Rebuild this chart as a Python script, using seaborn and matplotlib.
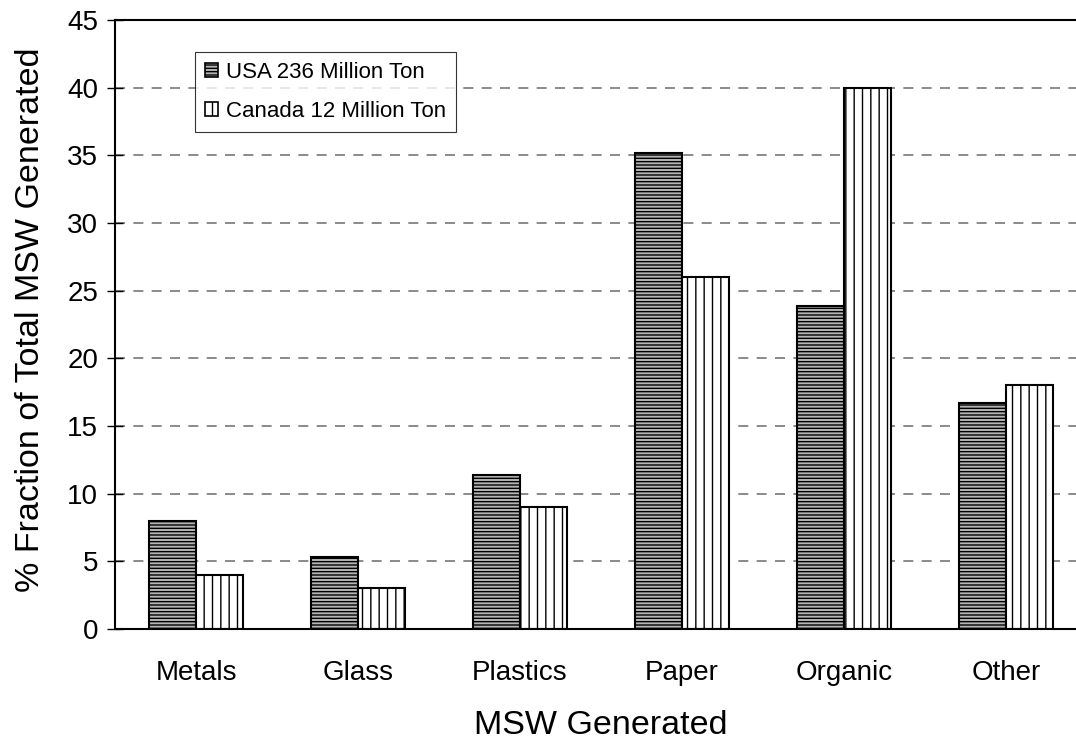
import matplotlib
matplotlib.use("Agg")
import matplotlib.pyplot as plt
import seaborn as sns
import pandas as pd
from matplotlib.patches import Patch

categories = ["Metals", "Glass", "Plastics", "Paper", "Organic", "Other"]
usa_values = [8.0, 5.3, 11.4, 35.2, 23.9, 16.7]
canada_values = [4.0, 3.0, 9.0, 26.0, 40.0, 18.0]
series = ["USA 236 Million Ton", "Canada 12 Million Ton"]

df = pd.DataFrame({
    "category": categories * 2,
    "value": usa_values + canada_values,
    "series": [series[0]] * len(categories) + [series[1]] * len(categories),
})

sns.set_style("white")
plt.rcParams["font.family"] = ["Liberation Sans", "DejaVu Sans"]
plt.rcParams["hatch.linewidth"] = 1.0
for key in ["text.color", "axes.labelcolor", "xtick.color", "ytick.color"]:
    plt.rcParams[key] = "black"

fig = plt.figure(figsize=(10.76, 7.4), dpi=100)
# axes run past the right edge, as in the reference crop
ax = fig.add_axes([115 / 1076, 111 / 740, 972 / 1076, 609 / 740])

sns.barplot(data=df, x="category", y="value", hue="series", order=categories,
            hue_order=series, width=0.58, gap=0, ax=ax, legend=False,
            palette=["#b4b4b4", "white"], edgecolor="black", linewidth=1.5)

hatches = ["-----", "||"]
faces = ["#b4b4b4", "white"]
for cont, h, fc in zip(ax.containers, hatches, faces):
    for bar in cont:
        bar.set_hatch(h)
        bar.set_facecolor(fc)
        bar.set_edgecolor("black")

ax.set_ylim(0, 45)
ax.set_yticks(range(0, 46, 5))
ax.set_xlim(-0.5, len(categories) - 0.5)
ax.set_xticks(range(len(categories)))
ax.set_xticks([i - 0.5 for i in range(len(categories) + 1)], minor=True)
ax.tick_params(axis="x", which="major", length=0, pad=22, labelsize=20)
ax.tick_params(axis="x", which="minor", length=7, width=1, direction="out", color="black")
ax.tick_params(axis="y", length=12, width=1, direction="inout", color="black",
               labelsize=20, left=True, pad=6)

for y in range(5, 45, 5):
    ax.axhline(y, color="#777777", linestyle=(0, (6, 5)), linewidth=1.2, zorder=0)

for side in ["left", "bottom", "top"]:
    ax.spines[side].set_visible(True)
    ax.spines[side].set_color("black")
    ax.spines[side].set_linewidth(1.5)
ax.spines["right"].set_visible(False)

ax.set_xlabel("MSW Generated", fontsize=24.5, va="center")
ax.xaxis.set_label_coords(0.5, (629 - 725) / 609)
ax.set_ylabel("% Fraction of Total MSW Generated", fontsize=24.5, va="center")
ax.yaxis.set_label_coords((31 - 115) / 972, (629 - 320) / 609)

handles = [Patch(facecolor=f, edgecolor="black", hatch=h, linewidth=1.2)
           for f, h in zip(faces, hatches)]
leg = ax.legend(handles, series, loc="upper left",
                bbox_to_anchor=(195 / 1076, 1 - 52 / 740), bbox_transform=fig.transFigure,
                borderaxespad=0, fontsize=16, frameon=True, fancybox=False,
                handlelength=0.6, handleheight=0.6, handletextpad=0.35,
                borderpad=0.45, labelspacing=0.8)
leg.get_frame().set_edgecolor("black")
leg.get_frame().set_linewidth(0.8)

fig.savefig("out.png", dpi=100)
